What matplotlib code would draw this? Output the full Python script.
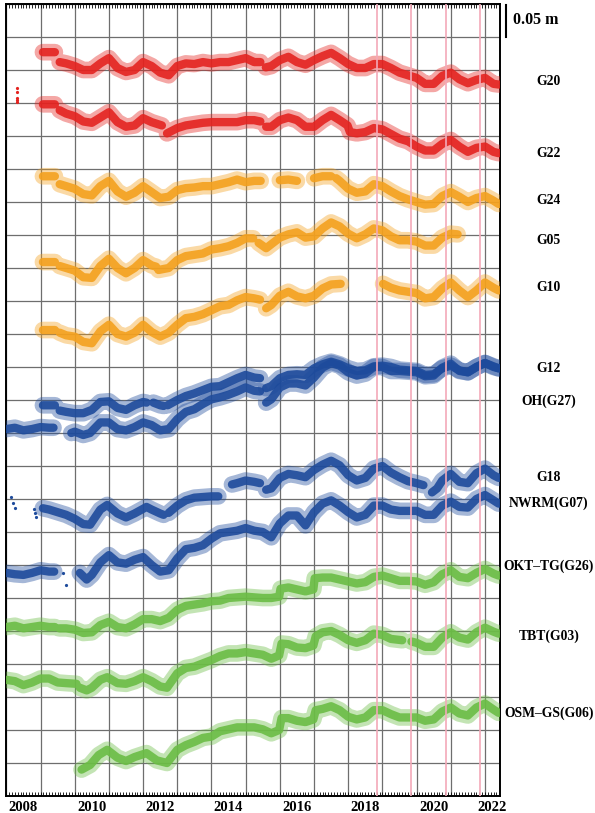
import numpy as np
import matplotlib.pyplot as plt
import matplotlib.transforms as mtransforms
from matplotlib.ticker import MultipleLocator

plt.rcParams['font.family'] = ['Liberation Serif', 'DejaVu Serif']
plt.rcParams['font.weight'] = 'bold'

nan = np.nan

# stations, top to bottom
names = ['G20', 'G22', 'G24', 'G05', 'G10', 'G12', 'OH(G27)', 'G18',
         'NWRM(G07)', 'OKT–TG(G26)', 'TBT(G03)', 'OSM–GS(G06)']
groups = ['red', 'red', 'orange', 'orange', 'orange', 'blue', 'blue', 'blue',
          'blue', 'green', 'green', 'green']
offset_mm = [1100, 1000, 900, 800, 700, 600, 550, 450, 350, 250, 150, 50]
label_mm = [1082, 974, 903, 841, 770, 648, 598, 482, 444, 348, 242, 126]

# displacement (mm), nan = data gap
t_g20 = [2009.07, 2009.42, 2009.5, 2009.56, 2009.75, 2010.0, 2010.25, 2010.5, 2010.75, 2011.0, 2011.25, 2011.5, 2011.75,
         2012.0, 2012.25, 2012.5, 2012.75, 2013.0, 2013.25, 2013.5, 2013.75, 2014.0, 2014.25, 2014.5, 2014.75,
         2015.0, 2015.25, 2015.43, 2015.5, 2015.59, 2015.75, 2016.0, 2016.25, 2016.5, 2016.75, 2017.0, 2017.25, 2017.5, 2017.75,
         2018.0, 2018.25, 2018.5, 2018.75, 2019.0, 2019.25, 2019.5, 2019.75, 2020.0, 2020.25, 2020.5, 2020.75,
         2021.0, 2021.25, 2021.5, 2021.75, 2022.0, 2022.25, 2022.4]
v_g20 = [27, 27, nan, 12, 10, 6, 0, 0, 10, 18, 3, -3, 0, 12, 6, -4, -8, 6, 10, 9, 12, 10, 12, 12, 15,
         18, 12, 12, nan, 4, 6, 15, 20, 12, 8, 15, 21, 26, 18, 9, 3, 3, 9, 9, 3, -4, -8, -12, -21, -21, -9,
         -4, -14, -20, -15, -12, -21, -22]

t_g22 = [2009.07, 2009.42, 2009.5, 2009.56, 2009.75, 2010.0, 2010.25, 2010.5, 2010.75, 2011.0, 2011.25, 2011.5, 2011.75,
         2012.0, 2012.25, 2012.55, 2012.62, 2012.7, 2013.0, 2013.25, 2013.5, 2013.75, 2014.0, 2014.25, 2014.5, 2014.75,
         2015.0, 2015.25, 2015.43, 2015.5, 2015.6, 2015.75, 2016.0, 2016.25, 2016.5, 2016.75, 2017.0, 2017.25, 2017.5, 2017.75,
         2017.98, 2018.05, 2018.25, 2018.5, 2018.75, 2019.0, 2019.25, 2019.5, 2019.75, 2020.0, 2020.25, 2020.5, 2020.75,
         2021.0, 2021.25, 2021.5, 2021.75, 2022.0, 2022.25, 2022.4]
v_g22 = [48, 48, nan, 39, 34, 30, 22, 20, 28, 36, 21, 14, 16, 27, 21, 16, nan, 4, 12, 16, 18, 20, 21, 21, 21, 21,
         24, 24, 22, nan, 14, 14, 24, 28, 24, 14, 14, 24, 32, 24, 16, 6, 4, 6, 12, 10, 3, -4, -8, -16, -22, -22, -12,
         -6, -16, -24, -18, -16, -24, -26]

t_g24 = [2009.07, 2009.42, 2009.5, 2009.56, 2009.75, 2010.0, 2010.25, 2010.5, 2010.75, 2011.0, 2011.25, 2011.5, 2011.75,
         2012.0, 2012.25, 2012.5, 2012.75, 2013.0, 2013.25, 2013.5, 2013.75, 2014.0, 2014.25, 2014.5, 2014.75,
         2015.0, 2015.25, 2015.44, 2015.7, 2016.0, 2016.25, 2016.5, 2016.75, 2017.0, 2017.25, 2017.5, 2017.58, 2017.65, 2017.75,
         2018.0, 2018.25, 2018.5, 2018.75, 2019.0, 2019.25, 2019.5, 2019.75, 2020.0, 2020.25, 2020.5, 2020.75,
         2021.0, 2021.25, 2021.5, 2021.75, 2022.0, 2022.25, 2022.4]
v_g24 = [39, 39, nan, 27, 24, 20, 12, 10, 24, 32, 16, 8, 14, 24, 15, 6, 8, 18, 21, 22, 24, 24, 27, 30, 34,
         30, 32, 32, nan, 33, 34, 32, nan, 36, 39, 39, nan, 36, 32, 20, 14, 16, 27, 24, 16, 9, 4, 0, -4, -3, 9,
         15, 8, 0, 6, 9, 2, -3]

t_g05 = [2009.07, 2009.42, 2009.5, 2009.56, 2009.75, 2010.0, 2010.25, 2010.5, 2010.75, 2011.0, 2011.25, 2011.5, 2011.75,
         2012.0, 2012.25, 2012.38, 2012.42, 2012.45, 2012.75, 2013.0, 2013.25, 2013.5, 2013.75, 2014.0, 2014.25, 2014.5, 2014.75,
         2015.0, 2015.22, 2015.3, 2015.38, 2015.6, 2015.75, 2016.0, 2016.25, 2016.5, 2016.75, 2017.0, 2017.25, 2017.5, 2017.75,
         2018.0, 2018.25, 2018.5, 2018.75, 2019.0, 2019.25, 2019.5, 2019.75, 2020.0, 2020.25, 2020.5, 2020.75, 2021.0, 2021.2]
v_g05 = [9, 9, nan, 3, 0, -4, -14, -15, 3, 14, 0, -8, 0, 12, 4, 2, nan, -3, 0, 12, 18, 20, 22, 28, 30, 33, 38,
         45, 45, nan, 38, 30, 36, 46, 51, 54, 46, 48, 60, 69, 63, 52, 45, 51, 60, 57, 48, 42, 42, 40, 34, 34, 46, 52, 51]

t_g10 = [2009.07, 2009.42, 2009.5, 2009.56, 2009.75, 2010.0, 2010.25, 2010.5, 2010.75, 2011.0, 2011.25, 2011.5, 2011.75,
         2012.0, 2012.25, 2012.5, 2012.75, 2013.0, 2013.25, 2013.5, 2013.75, 2014.0, 2014.25, 2014.5, 2014.75,
         2015.0, 2015.25, 2015.42, 2015.5, 2015.6, 2015.75, 2016.0, 2016.25, 2016.5, 2016.75, 2017.0, 2017.25, 2017.5, 2017.78,
         2018.4, 2019.02, 2019.25, 2019.5, 2019.75, 2020.0, 2020.25, 2020.5, 2020.75, 2021.0, 2021.25, 2021.5, 2021.75,
         2022.0, 2022.25, 2022.4]
v_g10 = [6, 6, nan, 2, -2, -4, -12, -14, 4, 14, 0, -4, 2, 14, 3, -4, 2, 14, 24, 26, 30, 36, 42, 44, 51,
         56, 54, 52, nan, 39, 44, 58, 64, 57, 54, 58, 69, 75, 76, nan, 76, 70, 66, 64, 62, 54, 56, 69, 78, 66, 56, 66,
         78, 70, 66]

t_g12 = [2009.07, 2009.42, 2009.5, 2009.56, 2009.75, 2010.0, 2010.25, 2010.5, 2010.75, 2011.0, 2011.25, 2011.5, 2011.75,
         2012.0, 2012.1, 2012.2, 2012.3, 2012.5, 2012.6, 2012.66, 2012.72, 2013.0, 2013.25, 2013.5, 2013.75,
         2014.0, 2014.25, 2014.5, 2014.75, 2015.0, 2015.25, 2015.42, 2015.5, 2015.6, 2015.75, 2016.0, 2016.25, 2016.5, 2016.75,
         2017.0, 2017.25, 2017.5, 2017.75, 2018.0, 2018.25, 2018.5, 2018.75, 2019.0, 2019.25, 2019.5, 2019.75,
         2020.0, 2020.25, 2020.5, 2020.75, 2021.0, 2021.25, 2021.5, 2021.75, 2022.0, 2022.25, 2022.4]
v_g12 = [-8, -8, nan, -16, -18, -20, -20, -15, -3, -2, -12, -15, -8, -3, -4, nan, -4, -8, -9, nan, -8, 0, 6, 10, 15,
         20, 21, 27, 33, 38, 34, 33, nan, 18, 21, 33, 38, 39, 38, 48, 54, 58, 54, 48, 44, 45, 51, 52, 50, 46, 45,
         44, 38, 39, 48, 52, 45, 42, 50, 56, 51, 48]

t_oh = [2008.0, 2008.25, 2008.5, 2008.75, 2009.0, 2009.25, 2009.38, 2009.6, 2009.9, 2010.0, 2010.25, 2010.45, 2010.75,
        2011.0, 2011.25, 2011.5, 2011.75, 2012.0, 2012.25, 2012.5, 2012.75, 2013.0, 2013.25, 2013.5, 2013.75,
        2014.0, 2014.25, 2014.5, 2014.75, 2015.0, 2015.25, 2015.42, 2015.5, 2015.6, 2015.75, 2016.0, 2016.25, 2016.5, 2016.75,
        2017.0, 2017.25, 2017.5, 2017.75, 2018.0, 2018.25, 2018.5, 2018.75, 2019.0, 2019.25, 2019.5, 2019.75,
        2020.0, 2020.25, 2020.5, 2020.75, 2021.0, 2021.25, 2021.5, 2021.75, 2022.0, 2022.25, 2022.4]
v_oh = [6, 8, 4, 6, 9, 8, 8, nan, 0, 2, -3, 0, 16, 16, 6, 4, 9, 16, 12, 4, 6, 21, 32, 36, 44,
        51, 54, 58, 63, 69, 64, 63, nan, 46, 51, 69, 75, 75, 72, 84, 99, 106, 102, 92, 87, 90, 100, 100, 94, 94, 93,
        92, 86, 87, 99, 105, 94, 92, 100, 106, 100, 98]

t_g18 = [2009.07, 2009.25, 2009.5, 2009.75, 2010.0, 2010.25, 2010.45, 2010.75, 2010.95, 2011.25, 2011.5, 2011.75,
         2012.1, 2012.25, 2012.5, 2012.6, 2012.68, 2012.75, 2013.0, 2013.25, 2013.5, 2013.75, 2014.0, 2014.2, 2014.4,
         2014.6, 2014.75, 2015.0, 2015.25, 2015.42, 2015.5, 2015.6, 2015.75, 2016.0, 2016.25, 2016.5, 2016.75,
         2017.0, 2017.25, 2017.5, 2017.75, 2018.0, 2018.25, 2018.5, 2018.75, 2019.0, 2019.25, 2019.5, 2019.75,
         2020.0, 2020.2, 2020.32, 2020.45, 2020.6, 2020.75, 2021.0, 2021.25, 2021.5, 2021.75, 2022.0, 2022.25, 2022.4]
v_g18 = [-14, -16, -20, -24, -30, -38, -39, -16, -9, -22, -28, -22, -12, -16, -22, -24, nan, -21, -10, -2, 2, 3, 4, 4, nan,
         22, 24, 28, 26, 24, nan, 14, 16, 32, 38, 36, 33, 44, 52, 58, 51, 36, 28, 32, 46, 50, 40, 33, 27,
         24, 21, nan, 10, 16, 28, 38, 26, 24, 39, 46, 36, 32]

t_nwrm = [2008.0, 2008.25, 2008.5, 2008.75, 2009.0, 2009.25, 2009.4, 2009.8, 2010.15, 2010.35, 2010.5, 2010.75,
          2011.0, 2011.25, 2011.5, 2011.75, 2012.0, 2012.25, 2012.5, 2012.75, 2013.0, 2013.25, 2013.5, 2013.75,
          2014.0, 2014.25, 2014.5, 2014.75, 2015.0, 2015.25, 2015.5, 2015.75, 2016.0, 2016.25, 2016.5, 2016.75,
          2017.0, 2017.25, 2017.5, 2017.75, 2018.0, 2018.25, 2018.5, 2018.75, 2019.0, 2019.25, 2019.5, 2019.75,
          2020.0, 2020.25, 2020.5, 2020.75, 2021.0, 2021.25, 2021.5, 2021.75, 2022.0, 2022.25, 2022.4]
v_nwrm = [-12, -14, -15, -12, -8, -10, -10, nan, -12, -22, -15, 4, 15, 4, 2, 8, 12, 0, -10, -8, 10, 24, 26, 30,
          40, 48, 50, 52, 56, 52, 50, 42, 63, 75, 75, 60, 80, 93, 98, 90, 80, 72, 76, 90, 90, 84, 82, 82,
          82, 76, 76, 90, 96, 88, 87, 100, 106, 98, 93]

t_okt = [2008.0, 2008.25, 2008.5, 2008.75, 2009.0, 2009.25, 2009.42, 2009.48, 2009.55, 2009.75, 2010.0, 2010.25, 2010.5, 2010.75,
         2011.0, 2011.25, 2011.5, 2011.75, 2012.0, 2012.25, 2012.5, 2012.75, 2013.0, 2013.25, 2013.5, 2013.75,
         2014.0, 2014.25, 2014.5, 2014.75, 2015.0, 2015.25, 2015.5, 2015.75, 2015.98, 2016.02, 2016.25, 2016.5, 2016.75, 2016.98,
         2017.02, 2017.25, 2017.5, 2017.75, 2018.0, 2018.25, 2018.5, 2018.75, 2019.0, 2019.25, 2019.5, 2019.75,
         2020.0, 2020.25, 2020.5, 2020.75, 2021.0, 2021.25, 2021.5, 2021.75, 2022.0, 2022.25, 2022.4]
v_okt = [6, 8, 4, 6, 8, 6, 6, nan, 4, 4, 2, -3, -2, 9, 14, 6, 4, 10, 18, 18, 15, 20, 32, 38, 40, 42,
         45, 46, 50, 51, 52, 51, 50, 50, 52, 64, 66, 63, 60, 63, 80, 81, 81, 78, 75, 72, 74, 82, 84, 80, 76, 76,
         75, 70, 74, 86, 92, 82, 80, 88, 94, 87, 84]

t_tbt = [2008.0, 2008.25, 2008.5, 2008.75, 2009.0, 2009.25, 2009.5, 2009.75, 2010.05, 2010.1, 2010.15, 2010.35, 2010.5,
         2010.75, 2010.95, 2011.25, 2011.5, 2011.75, 2012.0, 2012.25, 2012.5, 2012.7, 2013.0, 2013.25, 2013.5, 2013.75,
         2014.0, 2014.25, 2014.5, 2014.75, 2015.0, 2015.25, 2015.5, 2015.75, 2015.98, 2016.05, 2016.25, 2016.5, 2016.75, 2016.98,
         2017.05, 2017.25, 2017.5, 2017.75, 2018.0, 2018.25, 2018.5, 2018.75, 2019.0, 2019.25, 2019.58, 2019.7, 2019.85,
         2020.0, 2020.25, 2020.5, 2020.75, 2021.0, 2021.25, 2021.5, 2021.75, 2022.0, 2022.25, 2022.4]
v_tbt = [26, 24, 18, 22, 28, 28, 22, 21, 20, nan, 14, 10, 14, 26, 30, 21, 20, 24, 30, 24, 16, 14, 36, 44, 46, 51,
         56, 62, 66, 66, 68, 66, 64, 58, 63, 81, 80, 75, 74, 78, 92, 98, 100, 94, 86, 82, 86, 96, 94, 88, 86, nan, 84,
         82, 76, 76, 90, 98, 90, 87, 98, 105, 99, 96]

t_osm = [2010.2, 2010.45, 2010.7, 2010.95, 2011.25, 2011.5, 2011.75, 2012.1, 2012.4, 2012.7, 2013.0, 2013.25, 2013.5, 2013.75,
         2014.0, 2014.25, 2014.5, 2014.75, 2015.0, 2015.25, 2015.5, 2015.75, 2015.98, 2016.05, 2016.25, 2016.5, 2016.75, 2016.98,
         2017.05, 2017.25, 2017.5, 2017.75, 2018.0, 2018.25, 2018.5, 2018.75, 2019.0, 2019.25, 2019.5, 2019.75,
         2020.0, 2020.25, 2020.5, 2020.75, 2021.0, 2021.25, 2021.5, 2021.75, 2022.0, 2022.25, 2022.4]
v_osm = [-10, -3, 12, 20, 8, 3, 9, 15, 4, 0, 20, 27, 32, 38, 40, 48, 51, 54, 54, 54, 51, 45, 50, 68, 68, 64, 62, 66,
         80, 82, 86, 80, 70, 66, 69, 80, 80, 74, 69, 69, 69, 64, 66, 78, 84, 75, 72, 84, 90, 81, 76]

# a few isolated early epochs
t_g22_iso = [2008.3, 2008.3, 2008.3, 2008.3, 2008.3]
v_g22_iso = [72, 67, 58, 54, 51]
t_g18_iso = [2008.13, 2008.19, 2008.25, 2008.8, 2008.83, 2008.87]
v_g18_iso = [3, -6, -14, -15, -21, -27]
t_nwrm_iso = [2009.65, 2009.75]
v_nwrm_iso = [-12, -30]

event_years = [2018.85, 2019.84, 2020.85, 2021.85]
year_labels = ['2008', '2010', '2012', '2014', '2016', '2018', '2020', '2022']
year_label_x = [2008.5, 2010.5, 2012.5, 2014.5, 2016.5, 2018.5, 2020.5, 2022.22]

palette = {'red': '#e42320', 'orange': '#f4a11e', 'blue': '#1e4b9c', 'green': '#6bbd45'}

series = [(t_g20, v_g20), (t_g22, v_g22), (t_g24, v_g24), (t_g05, v_g05), (t_g10, v_g10),
          (t_g12, v_g12), (t_oh, v_oh), (t_g18, v_g18), (t_nwrm, v_nwrm), (t_okt, v_okt),
          (t_tbt, v_tbt), (t_osm, v_osm)]
isolated = {1: (t_g22_iso, v_g22_iso), 7: (t_g18_iso, v_g18_iso), 8: (t_nwrm_iso, v_nwrm_iso)}

fig = plt.figure(figsize=(5.95, 8.13), dpi=100)
ax = fig.add_axes([6 / 595, 17 / 813, 494 / 595, 792 / 813])

for i, (t, v) in enumerate(series):
    c = palette[groups[i]]
    y = np.array(v, dtype=float) + offset_mm[i]
    # scattered halo + dense core of the daily solutions
    ax.plot(t, y, color=c, lw=12, alpha=0.4, solid_capstyle='round',
            solid_joinstyle='round', zorder=3)
    ax.plot(t, y, color=c, lw=6, alpha=0.9, solid_capstyle='round',
            solid_joinstyle='round', zorder=3)
    if i in isolated:
        ti, vi = isolated[i]
        ax.plot(ti, np.array(vi) + offset_mm[i], 'o', ms=2.3, color=c, mec='none', zorder=3)

for ev in event_years:
    ax.axvline(ev, color='#f3a9b8', lw=1.4, alpha=0.85, zorder=4)

ax.set_xlim(2007.99, 2022.44)
ax.set_ylim(0, 1200)
ax.set_xticks(np.arange(2008, 2023))
ax.set_yticks(np.arange(0, 1201, 50))
ax.xaxis.set_minor_locator(MultipleLocator(1 / 12))
ax.grid(True, which='major', color='#6e6e6e', lw=0.9, zorder=1)
ax.set_axisbelow(True)
ax.tick_params(axis='x', which='both', direction='in', top=True, bottom=True,
               length=3, width=0.6, labelbottom=False)
ax.tick_params(axis='y', which='both', length=0, labelleft=False)
for s in ax.spines.values():
    s.set_linewidth(1.4)

trans = mtransforms.blended_transform_factory(ax.transData, ax.transAxes)
for lab, xp in zip(year_labels, year_label_x):
    ax.text(xp, -0.006, lab, transform=trans, ha='center', va='top',
            fontsize=10.5, fontweight='bold')

trans_r = mtransforms.blended_transform_factory(ax.transAxes, ax.transData)
for name, ly in zip(names, label_mm):
    ax.text(1.099, ly, name, transform=trans_r, ha='center', va='center',
            fontsize=9.8, fontweight='bold')

# 0.05 m scale bar
ax.plot([2022.63, 2022.63], [1150, 1199], color='black', lw=1.5, clip_on=False)
ax.text(2022.82, 1175, '0.05 m', ha='left', va='center', fontsize=11.5,
        fontweight='bold', clip_on=False)

fig.savefig('out.png', dpi=100)
